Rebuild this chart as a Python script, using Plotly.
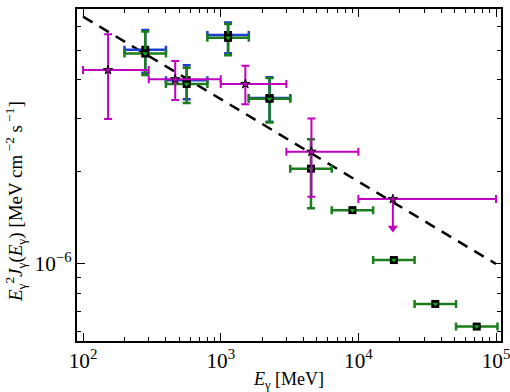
import plotly.graph_objects as go

# ---- data ----
# green series (energy bins, MeV)
g_e   = [283, 566, 1131, 2263, 4525, 9051, 18102, 36204, 72408]
g_elo = [200, 400, 800, 1600, 3200, 6400, 12800, 25600, 51200]
g_ehi = [400, 800, 1600, 3200, 6400, 12800, 25600, 51200, 102400]
g_y   = [4.88e-6, 3.88e-6, 5.49e-6, 3.47e-6, 2.05e-6, 1.50e-6, 1.03e-6, 7.4e-7, 6.24e-7]
g_hi  = [5.76e-6, 4.38e-6, 6.09e-6, 4.06e-6, 2.56e-6, 1.50e-6, 1.03e-6, 7.4e-7, 6.24e-7]
g_lo  = [4.15e-6, 3.36e-6, 4.82e-6, 2.90e-6, 1.52e-6, 1.50e-6, 1.03e-6, 7.4e-7, 6.24e-7]

# blue series (mostly hidden behind green)
b_e   = [283, 566, 1131, 2263]
b_elo = [200, 400, 800, 1600]
b_ehi = [400, 800, 1600, 3200]
b_y   = [5.02e-6, 3.99e-6, 5.61e-6, 3.49e-6]
b_hi  = [5.83e-6, 4.47e-6, 6.16e-6, 4.08e-6]
b_lo  = [4.22e-6, 3.46e-6, 4.89e-6, 2.92e-6]

# magenta series
m_e   = [152, 467, 1510, 4560]
m_elo = [100, 300, 1000, 3000]
m_ehi = [300, 1000, 3000, 10000]
m_y   = [4.31e-6, 4.02e-6, 3.88e-6, 2.33e-6]
m_hi  = [5.64e-6, 4.61e-6, 4.45e-6, 2.99e-6]
m_lo  = [2.98e-6, 3.44e-6, 3.33e-6, 1.66e-6]

# magenta upper limit
ul_e, ul_elo, ul_ehi = [17800], [10000], [100000]
ul_y, ul_tip = [1.63e-6], [1.31e-6]

# dashed power-law line
pl_e = [100, 1e5]
pl_y = [6.44e-6, 1.0e-6]

GREEN = "#1b7d1b"
BLUE = "#1f3fd0"
MAG = "#c000c0"
SERIF = "Times New Roman, Liberation Serif, Times, serif"

def errs(c, lo, hi):
    return [h - v for v, h in zip(c, hi)], [v - l for v, l in zip(c, lo)]

fig = go.Figure()

fig.add_trace(go.Scatter(x=pl_e, y=pl_y, mode="lines",
                         line=dict(color="black", width=2.5, dash="11px,8px"),
                         showlegend=False))

# blue
yp, ym = errs(b_y, b_lo, b_hi)
xp, xm = errs(b_e, b_elo, b_ehi)
fig.add_trace(go.Scatter(x=b_e, y=b_y, mode="markers",
                         marker=dict(symbol="square", size=8, color="black"),
                         error_y=dict(type="data", symmetric=False, array=yp, arrayminus=ym,
                                      color=BLUE, thickness=2.5, width=4),
                         error_x=dict(type="data", symmetric=False, array=xp, arrayminus=xm,
                                      color=BLUE, thickness=2.5, width=4),
                         showlegend=False))

# green
yp, ym = errs(g_y, g_lo, g_hi)
xp, xm = errs(g_e, g_elo, g_ehi)
fig.add_trace(go.Scatter(x=g_e, y=g_y, mode="markers",
                         marker=dict(symbol="square", size=8, color="black"),
                         error_y=dict(type="data", symmetric=False, array=yp, arrayminus=ym,
                                      color=GREEN, thickness=2.5, width=4),
                         error_x=dict(type="data", symmetric=False, array=xp, arrayminus=xm,
                                      color=GREEN, thickness=2.5, width=4),
                         showlegend=False))
fig.add_trace(go.Scatter(x=g_e, y=g_y, mode="markers",
                         marker=dict(symbol="triangle-down", size=5, color="#11aa11"),
                         showlegend=False))

# magenta
yp, ym = errs(m_y, m_lo, m_hi)
xp, xm = errs(m_e, m_elo, m_ehi)
fig.add_trace(go.Scatter(x=m_e, y=m_y, mode="markers",
                         marker=dict(symbol="star", size=7, color=MAG,
                                     line=dict(color="black", width=1)),
                         error_y=dict(type="data", symmetric=False, array=yp, arrayminus=ym,
                                      color=MAG, thickness=2, width=4),
                         error_x=dict(type="data", symmetric=False, array=xp, arrayminus=xm,
                                      color=MAG, thickness=2, width=4),
                         showlegend=False))

# upper limit
xp, xm = errs(ul_e, ul_elo, ul_ehi)
fig.add_trace(go.Scatter(x=ul_e, y=ul_y, mode="markers",
                         marker=dict(symbol="star", size=7, color=MAG,
                                     line=dict(color="black", width=1)),
                         error_y=dict(type="data", symmetric=False, array=[0],
                                      arrayminus=[a - b for a, b in zip(ul_y, ul_tip)],
                                      color=MAG, thickness=2, width=0),
                         error_x=dict(type="data", symmetric=False, array=xp, arrayminus=xm,
                                      color=MAG, thickness=2, width=4),
                         showlegend=False))
fig.add_trace(go.Scatter(x=ul_e, y=ul_tip, mode="markers",
                         marker=dict(symbol="triangle-down", size=9, color=MAG),
                         showlegend=False))

font = dict(family=SERIF, size=17, color="black")

axis_common = dict(type="log", showgrid=False, zeroline=False, automargin=False,
                   showline=True, linecolor="black", linewidth=2, mirror="allticks",
                   ticks="inside", ticklen=8, tickwidth=1.2, tickcolor="black",
                   dtick=1, exponentformat="power", ticklabeloverflow="allow",
                   minor=dict(ticks="inside", ticklen=4, tickwidth=1, tickcolor="black",
                              dtick="D1", showgrid=False),
                   tickfont=dict(family=SERIF, size=17, color="black"))

fig.update_layout(
    width=510, height=392,
    margin=dict(l=77, r=9, t=9, b=51, autoexpand=False),
    paper_bgcolor="white", plot_bgcolor="white",
    font=font,
    xaxis=dict(range=[1.956, 5.036],
               title=dict(text="<i>E</i><sub>γ</sub> [MeV]", standoff=2,
                          font=dict(family=SERIF, size=18)),
               **axis_common),
    yaxis=dict(range=[-6.252, -5.166], **axis_common),
    annotations=[dict(
        text="<i>E</i><sub>γ</sub><sup>2</sup><i>J</i><sub>γ</sub>(<i>E</i><sub>γ</sub>) [MeV cm<sup> −2</sup> s<sup> −1</sup>]",
        xref="paper", yref="paper", x=-0.145, y=0.42,
        xanchor="center", yanchor="middle", textangle=-90, showarrow=False,
        font=dict(family=SERIF, size=19, color="black"))],
)

fig.write_html("out.html")
